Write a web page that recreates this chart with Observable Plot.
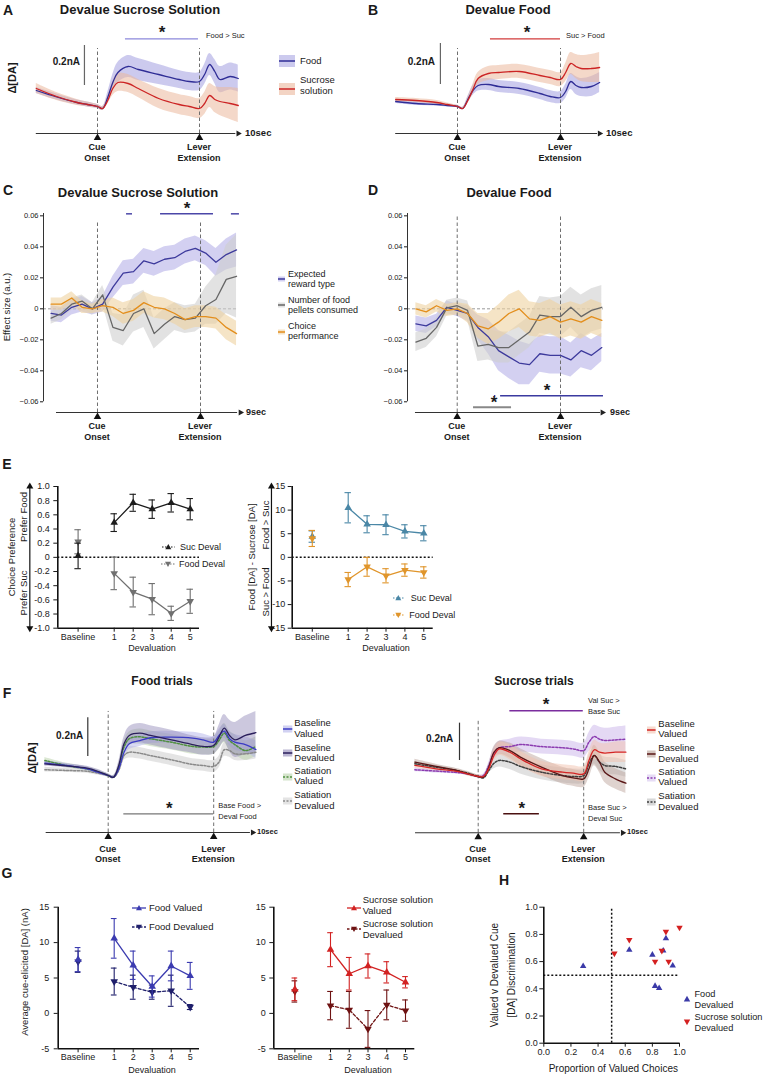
<!DOCTYPE html>
<html>
<head>
<meta charset="utf-8">
<script src="https://cdn.jsdelivr.net/npm/d3@7"></script>
<script src="https://cdn.jsdelivr.net/npm/@observablehq/plot@0.6"></script>
<style>
  html,body{margin:0;padding:0;background:#fff;}
  #fig{position:relative;width:764px;height:1075px;overflow:hidden;font-family:"Liberation Sans",Arial,Helvetica,sans-serif;color:#1a1a1a;}
  #fig > svg{position:absolute;left:0;top:0;pointer-events:none;}
  .lb{position:absolute;white-space:nowrap;}
  .sw{position:absolute;overflow:visible;}
</style>
</head>
<body>
<div id="fig"></div>
<script>
// ================= DATA =================
// A / B : time (s) relative to cue onset; lever extension at 5 s; values in nA
const tAB = [-3,-2,-1,-0.5,0,0.25,0.5,0.75,1,1.5,2,3,4,4.5,5,5.25,5.5,5.75,6,6.5,6.9];
const aFoodMean = [0.08,0.0475,0.02,0.01,0,-0.01,0.045,0.12,0.17,0.2,0.185,0.16,0.135,0.125,0.125,0.16,0.21,0.175,0.135,0.15,0.14];
const aFoodSem  = [0.015,0.015,0.012,0.012,0.01,0.01,0.025,0.04,0.05,0.055,0.055,0.05,0.045,0.045,0.045,0.05,0.055,0.06,0.065,0.068,0.068];
const aSucMean  = [0.09,0.05,0.02,0.01,0,-0.01,0.03,0.09,0.12,0.115,0.09,0.04,0.01,0,-0.01,0.015,0.055,0.035,0.025,0.015,0.005];
const aSucSem   = [0.025,0.02,0.015,0.012,0.01,0.01,0.02,0.035,0.045,0.045,0.045,0.05,0.05,0.05,0.05,0.055,0.06,0.065,0.07,0.08,0.085];
const bSucMean  = [0.035,0.03,0.02,0.01,0,-0.01,0.03,0.085,0.14,0.165,0.17,0.175,0.155,0.145,0.135,0.17,0.215,0.2,0.19,0.19,0.195];
const bSucSem   = [0.01,0.01,0.01,0.008,0.006,0.006,0.015,0.025,0.03,0.035,0.035,0.035,0.035,0.035,0.035,0.045,0.055,0.06,0.065,0.07,0.075];
const bFoodMean = [0.025,0.015,0.01,0.005,0,-0.01,0.035,0.08,0.105,0.11,0.1,0.09,0.065,0.05,0.045,0.075,0.125,0.105,0.095,0.1,0.12];
const bFoodSem  = [0.01,0.01,0.008,0.008,0.006,0.006,0.015,0.025,0.028,0.03,0.03,0.03,0.03,0.03,0.03,0.035,0.04,0.045,0.045,0.05,0.05];
const sigA = [[1.37,4.95]];
const sigB = [[1.6,5.0]];

// C / D : effect sizes (a.u.)
const tC = [-2.25,-1.75,-1.25,-0.75,-0.25,0.25,0.75,1.25,1.75,2.25,2.75,3.25,3.75,4.25,4.75,5.25,5.75,6.25,6.75];
const cRewardMean = [-0.003,-0.004,0.001,0.003,0.000,0.003,0.014,0.023,0.024,0.031,0.029,0.032,0.033,0.037,0.039,0.036,0.030,0.035,0.038];
const cRewardSem  = [0.005,0.005,0.005,0.005,0.004,0.005,0.007,0.008,0.008,0.008,0.008,0.008,0.008,0.008,0.008,0.008,0.009,0.01,0.011];
const cPelletMean = [-0.006,-0.003,0.003,0.005,0.000,0.009,-0.012,-0.014,-0.003,0.000,-0.016,-0.010,-0.005,-0.007,-0.006,0.002,0.006,0.019,0.021];
const cPelletSem  = [0.004,0.004,0.004,0.004,0.004,0.006,0.009,0.01,0.012,0.012,0.01,0.01,0.009,0.009,0.009,0.012,0.016,0.022,0.027];
const cChoiceMean = [0.003,0.003,0.007,0.001,0.000,0.002,0.001,-0.003,-0.001,0.004,0.001,0.000,-0.003,-0.007,-0.005,-0.005,-0.006,-0.012,-0.016];
const cChoiceSem  = [0.004,0.004,0.004,0.004,0.003,0.004,0.006,0.007,0.007,0.007,0.007,0.007,0.007,0.007,0.007,0.007,0.007,0.008,0.008];
const sigC = [[1.41,1.70],[3.06,5.63],[6.5,6.89]];

const tD = [-2,-1.5,-1,-0.5,0,0.5,1,1.5,2,2.5,3,3.5,4,4.5,5,5.5,6,6.5,7];
const dRewardMean = [-0.0097,-0.011,-0.0075,0.001,-0.001,-0.003,-0.012,-0.018,-0.027,-0.031,-0.035,-0.036,-0.029,-0.030,-0.030,-0.033,-0.027,-0.030,-0.025];
const dRewardSem  = [0.005,0.005,0.004,0.004,0.004,0.005,0.008,0.011,0.013,0.014,0.014,0.013,0.012,0.012,0.012,0.011,0.011,0.01,0.009];
const dPelletMean = [-0.0215,-0.019,-0.012,0.0006,0.002,-0.001,-0.024,-0.023,-0.025,-0.025,-0.020,-0.015,-0.004,-0.005,-0.005,0.001,-0.005,-0.001,0.001];
const dPelletSem  = [0.006,0.006,0.006,0.005,0.005,0.006,0.01,0.01,0.01,0.01,0.01,0.01,0.012,0.012,0.013,0.013,0.014,0.014,0.014];
const dChoiceMean = [0,-0.002,0.002,-0.001,0,-0.003,-0.011,-0.013,-0.0086,-0.003,0,-0.0065,-0.0075,-0.005,-0.0086,-0.0065,-0.0086,-0.005,-0.0075];
const dChoiceSem  = [0.004,0.004,0.004,0.004,0.004,0.006,0.008,0.01,0.011,0.012,0.012,0.011,0.011,0.011,0.011,0.011,0.011,0.011,0.011];
const sigDReward = [[1.8,1.87],[2.1,7.08]];
const sigDPellet = [[0.79,2.63]];
const effTicks = [-0.06,-0.04,-0.02,0,0.02,0.04,0.06];

// E / G : devaluation sessions
const devalLabels = ["Baseline","1","2","3","4","5"];
const devalPos = [-0.9,1,2,3,4,5];
const prefSucDeval = [0.02,0.49,0.77,0.68,0.77,0.68];
const prefSucDevalErr = [0.18,0.125,0.12,0.13,0.13,0.15];
const prefFoodDeval = [0.22,-0.226,-0.49,-0.59,-0.79,-0.62];
const prefFoodDevalErr = [0.17,0.23,0.21,0.22,0.1,0.17];
const daSucDeval = [4.4,10.5,7.0,6.9,5.5,5.1];
const daSucDevalErr = [1.2,3.2,1.8,2.1,1.4,1.6];
const daFoodDeval = [4.0,-4.7,-2.0,-3.9,-2.7,-3.2];
const daFoodDevalErr = [1.7,1.5,2.0,1.5,1.3,1.2];
const prefTicks = [-1,-0.8,-0.6,-0.4,-0.2,0,0.2,0.4,0.6,0.8,1];
const daDiffTicks = [-15,-10,-5,0,5,10,15];

// F : food / sucrose trials (nA)
const tF = [-3,-2,-1,-0.5,0,0.25,0.5,0.75,1,1.5,2,3,4,4.5,5,5.25,5.5,5.75,6,6.5,7];
const fFoodBaseVal    = [0.064,0.052,0.034,0.017,0,-0.009,0.034,0.12,0.164,0.18,0.195,0.198,0.193,0.184,0.172,0.207,0.229,0.19,0.172,0.16,0.134];
const fFoodBaseValSem = [0.012,0.01,0.01,0.01,0.008,0.008,0.015,0.025,0.03,0.03,0.03,0.03,0.03,0.03,0.03,0.03,0.035,0.035,0.04,0.04,0.045];
const fFoodBaseDev    = [0.06,0.05,0.038,0.022,0,-0.009,0.052,0.164,0.207,0.219,0.207,0.184,0.16,0.15,0.155,0.198,0.245,0.207,0.184,0.207,0.221];
const fFoodBaseDevSem = [0.012,0.01,0.01,0.01,0.008,0.008,0.02,0.035,0.045,0.05,0.05,0.05,0.045,0.045,0.045,0.06,0.07,0.08,0.09,0.1,0.11];
const fFoodSatVal     = [0.078,0.052,0.034,0.02,0,-0.009,0.043,0.147,0.19,0.2,0.19,0.172,0.15,0.147,0.15,0.181,0.219,0.181,0.16,0.129,0.15];
const fFoodSatValSem  = [0.015,0.012,0.01,0.01,0.008,0.008,0.018,0.03,0.035,0.04,0.04,0.04,0.04,0.04,0.04,0.045,0.05,0.05,0.05,0.05,0.05];
const fFoodSatDev     = [0.03,0.026,0.022,0.012,0,-0.009,0.026,0.103,0.12,0.115,0.103,0.081,0.057,0.052,0.047,0.069,0.133,0.129,0.112,0.112,0.12];
const fFoodSatDevSem  = [0.012,0.01,0.01,0.01,0.008,0.008,0.015,0.025,0.03,0.03,0.03,0.03,0.03,0.03,0.03,0.03,0.035,0.035,0.035,0.035,0.035];
const fSucBaseVal     = [0.059,0.041,0.027,0.014,0,0,0.041,0.1125,0.148,0.13,0.095,0.041,0.023,0.018,0.014,0.086,0.143,0.13,0.125,0.13,0.13];
const fSucBaseValSem  = [0.015,0.012,0.01,0.01,0.008,0.008,0.015,0.03,0.035,0.04,0.04,0.04,0.04,0.04,0.04,0.045,0.05,0.05,0.05,0.055,0.055];
const fSucBaseDev     = [0.077,0.054,0.032,0.014,0,-0.004,0.05,0.13,0.154,0.139,0.104,0.05,0.005,-0.007,-0.0125,0.041,0.1125,0.077,0.023,-0.0125,-0.036];
const fSucBaseDevSem  = [0.015,0.012,0.01,0.01,0.008,0.008,0.015,0.03,0.035,0.04,0.045,0.045,0.045,0.045,0.045,0.05,0.055,0.055,0.055,0.055,0.055];
const fSucSatVal      = [0.036,0.029,0.021,0.014,0,0.005,0.059,0.125,0.154,0.16,0.171,0.16,0.154,0.148,0.139,0.184,0.214,0.2,0.193,0.196,0.2];
const fSucSatValSem   = [0.01,0.01,0.008,0.008,0.008,0.008,0.015,0.03,0.035,0.04,0.04,0.04,0.04,0.04,0.04,0.05,0.06,0.065,0.065,0.068,0.07];
const fSucSatDev      = [0.068,0.05,0.032,0.018,0,-0.007,0.032,0.071,0.086,0.077,0.054,0.023,0.005,0,0.005,0.068,0.1125,0.077,0.059,0.054,0.041];
const fSucSatDevSem   = [0.012,0.01,0.01,0.01,0.008,0.008,0.015,0.03,0.035,0.04,0.04,0.04,0.04,0.04,0.04,0.045,0.045,0.045,0.045,0.045,0.045];
const sigFFood = [[0.74,5.0]];
const sigFSucUp = [[1.5,4.98]];
const sigFSucDown = [[1.21,2.9]];

// G : average cue-elicited [DA] (nA)
const gFoodVal = [7.6,10.6,6.8,3.8,6.7,5.3];
const gFoodValErr = [1.7,2.8,2.0,1.5,2.1,1.9];
const gFoodDev = [7.3,4.5,3.7,3.0,3.2,0.9];
const gFoodDevErr = [1.5,1.9,1.7,1.0,2.2,0.35];
const gSucVal = [3.4,9.0,5.6,6.7,5.8,4.4];
const gSucValErr = [1.6,2.4,2.3,1.7,1.5,0.8];
const gSucDev = [3.1,1.1,0.5,-2.2,1.2,0.4];
const gSucDevErr = [1.5,2.0,2.6,2.6,2.1,1.5];
const gTicks = [-5,0,5,10,15];

// H : scatter
const hFoodX = [0.29,0.63,0.80,0.82,0.85,0.88,0.90,0.95];
const hFoodY = [0.566,0.686,0.65,0.42,0.405,0.68,0.77,0.57];
const hSucX  = [0.52,0.63,0.82,0.87,0.90,0.92,1.0];
const hSucY  = [0.66,0.76,0.60,0.68,0.82,0.60,0.85];
const hTicks = [0,0.2,0.4,0.6,0.8,1.0];

// ================= RENDER =================
const W = 764, H = 1075;
const fig = document.getElementById("fig");
const FONT = "'Liberation Sans', Arial, sans-serif";

function panel(box, xd, yd, marks, xNull = true, yNull = true) {
  const svg = Plot.plot({
    width: W, height: H,
    marginLeft: box[0], marginRight: W - box[1], marginTop: box[2], marginBottom: H - box[3],
    x: Object.assign({domain: xd}, xNull ? {axis: null} : {}),
    y: Object.assign({domain: yd}, yNull ? {axis: null} : {}),
    style: {background: "none", overflow: "visible", fontFamily: FONT},
    marks
  });
  fig.appendChild(svg);
}

function series(t, list, curve) {
  const bands = [], lines = [];
  for (const s of list) {
    const r = t.map((x, i) => ({x, y: s.m[i], lo: s.m[i] - s.s[i], hi: s.m[i] + s.s[i]}));
    bands.push(Plot.areaY(r, {x: "x", y1: "lo", y2: "hi", fill: s.band, fillOpacity: s.op ?? 0.55, curve}));
    lines.push(Plot.lineY(r, {x: "x", y: "y", stroke: s.c, strokeWidth: s.w ?? 1.3, strokeDasharray: s.dash, curve}));
  }
  return {bands, lines};
}

function eventUnder(o) {
  return [Plot.ruleX([0, 5], {y1: o.bot, y2: o.top, stroke: "#6f6f6f", strokeWidth: 1, strokeDasharray: "3.5,2.5"})];
}
function eventOver(o) {
  return [
    Plot.ruleY([o.bot], {x1: o.ax1, x2: o.ax2, stroke: "#333", strokeWidth: 1.1}),
    Plot.dot([o.head], {x: d => d, y: o.bot, symbol: "triangle", rotate: 90, fill: "#222", r: 2.3}),
    Plot.dot([0, 5], {x: d => d, y: o.bot, dy: o.tri * 1.55, symbol: "triangle", fill: "#111", r: o.tri})
  ];
}
function sig(segs, y, stroke, w = 1.3) {
  return Plot.ruleY(segs, {y, x1: d => d[0], x2: d => d[1], stroke, strokeWidth: w});
}

function errMarks(pos, mean, err, color, down, dash, cap, r, lw = 1.3) {
  const rows = pos.map((p, i) => ({p, m: mean[i], lo: mean[i] - err[i], hi: mean[i] + err[i]}));
  return [
    Plot.line(rows.slice(1), {x: "p", y: "m", stroke: color, strokeWidth: lw, strokeDasharray: dash}),
    Plot.ruleX(rows, {x: "p", y1: "lo", y2: "hi", stroke: color, strokeWidth: 1.1}),
    Plot.ruleY(rows, {y: "hi", x1: d => d.p - cap, x2: d => d.p + cap, stroke: color, strokeWidth: 1.1}),
    Plot.ruleY(rows, {y: "lo", x1: d => d.p - cap, x2: d => d.p + cap, stroke: color, strokeWidth: 1.1}),
    Plot.dot(rows, {x: "p", y: "m", symbol: "triangle", rotate: down ? 180 : 0, fill: color, r})
  ];
}
const devalFmt = d => devalLabels[devalPos.indexOf(d)];

// ---------- Panel A ----------
{
  const o = {bot: -0.135, top: 0.29, ax1: -3, ax2: 6.78, head: 6.9, tri: 2.8};
  const s = series(tAB, [
    {m: aFoodMean, s: aFoodSem, c: "#2f2d96", band: "#aaa6e2", op: 0.6},
    {m: aSucMean, s: aSucSem, c: "#cc2424", band: "#ebb89c", op: 0.55}
  ], "catmull-rom");
  panel([35.8, 239.8, 28, 133], [-3, 7], [-0.135, 0.39], [
    ...s.bands, ...eventUnder(o), ...s.lines, ...eventOver(o),
    sig(sigA, 0.3385, "#8c89db"),
    Plot.ruleX([-0.64], {y1: 0.105, y2: 0.305, stroke: "#666", strokeWidth: 1.2})
  ]);
}
// ---------- Panel B ----------
{
  const o = {bot: -0.135, top: 0.29, ax1: -3, ax2: 6.8, head: 6.9, tri: 2.8};
  const s = series(tAB, [
    {m: bFoodMean, s: bFoodSem, c: "#2f2d96", band: "#aaa6e2", op: 0.6},
    {m: bSucMean, s: bSucSem, c: "#cc2424", band: "#ebb89c", op: 0.55}
  ], "catmull-rom");
  panel([395.2, 601.2, 28, 133], [-3, 7], [-0.135, 0.39], [
    ...s.bands, ...eventUnder(o), ...s.lines, ...eventOver(o),
    sig(sigB, 0.3385, "#d23b3b"),
    Plot.ruleX([-0.83], {y1: 0.11, y2: 0.315, stroke: "#666", strokeWidth: 1.2})
  ]);
}
// ---------- Panel C / D ----------
const effAxis = Plot.axisY({ticks: effTicks, tickFormat: d => d === 0 ? "0" : d3.format(".2f")(d), tickSize: 3, tickPadding: 2, fontSize: 7.5, label: null});
{
  const o = {bot: -0.0669, top: 0.0557, ax1: -1.99, ax2: 6.8, head: 6.94, tri: 2.8};
  const s = series(tC, [
    {m: cRewardMean, s: cRewardSem, c: "#3d3a9c", band: "#b5b1e8", op: 0.6},
    {m: cPelletMean, s: cPelletSem, c: "#666", band: "#cfcfcf", op: 0.6},
    {m: cChoiceMean, s: cChoiceSem, c: "#e38e1c", band: "#efd2a0", op: 0.6}
  ], "linear");
  panel([43, 243, 200, 412], [-2.621, 7.087], [-0.0669, 0.0699], [
    Plot.ruleY([0], {x1: -2.621, x2: 6.84, stroke: "#9a9a9a", strokeDasharray: "3,2"}),
    ...s.bands, ...eventUnder(o), ...s.lines, ...eventOver(o),
    Plot.ruleX([-2.621], {y1: -0.06, y2: 0.0615, stroke: "#333", strokeWidth: 1}),
    effAxis,
    sig(sigC, 0.0613, "#4b47a8", 1.5)
  ], true, false);
}
{
  const o = {bot: -0.0669, top: 0.0603, ax1: -2.02, ax2: 6.94, head: 7.03, tri: 2.8};
  const s = series(tD, [
    {m: dRewardMean, s: dRewardSem, c: "#3d3a9c", band: "#b5b1e8", op: 0.6},
    {m: dPelletMean, s: dPelletSem, c: "#666", band: "#cfcfcf", op: 0.6},
    {m: dChoiceMean, s: dChoiceSem, c: "#e38e1c", band: "#efd2a0", op: 0.6}
  ], "linear");
  panel([407, 610, 200, 412], [-2.406, 7.42], [-0.0669, 0.0699], [
    Plot.ruleY([0], {x1: -2.406, x2: 7.08, stroke: "#9a9a9a", strokeDasharray: "3,2"}),
    ...s.bands, ...eventUnder(o), ...s.lines, ...eventOver(o),
    Plot.ruleX([-2.406], {y1: -0.06, y2: 0.0615, stroke: "#333", strokeWidth: 1}),
    effAxis,
    sig(sigDReward, -0.0561, "#3b3aa0", 1.5),
    sig(sigDPellet, -0.0635, "#888", 1.8)
  ], true, false);
}
// ---------- Panel E ----------
{
  const xd = [-1.968, 5.489];
  panel([57.3, 199, 486, 627.7], xd, [-1, 1], [
    Plot.ruleY([0], {x1: xd[0], x2: xd[1], stroke: "#111", strokeWidth: 1.5, strokeDasharray: "2,2"}),
    Plot.ruleX([xd[0]], {y1: -1, y2: 1, stroke: "#111", strokeWidth: 1.6}),
    Plot.ruleY([-1], {x1: xd[0], x2: xd[1], stroke: "#111", strokeWidth: 1.6}),
    Plot.axisY({ticks: prefTicks, tickFormat: d => d === 0 ? "0" : d.toFixed(1), tickSize: 4, tickPadding: 4, fontSize: 9, label: null}),
    Plot.axisX({ticks: devalPos, tickFormat: devalFmt, tickSize: 4, tickPadding: 1, fontSize: 9, label: null}),
    Plot.ruleX([-3.44], {y1: -1, y2: 1, stroke: "#111", strokeWidth: 1.2}),
    Plot.dot([[-3.44, 1, 0], [-3.44, -1, 180]], {x: d => d[0], y: d => d[1], rotate: d => d[2], symbol: "triangle", fill: "#111", r: 2.6}),
    ...errMarks(devalPos, prefFoodDeval, prefFoodDevalErr, "#707070", true, null, 0.17, 2.8),
    ...errMarks(devalPos, prefSucDeval, prefSucDevalErr, "#1c1c1c", false, null, 0.17, 2.8)
  ], false, false);
}
{
  const xd = [-1.963, 5.497];
  panel([291.7, 432.7, 486, 627.7], xd, [-15, 15], [
    Plot.ruleY([0], {x1: xd[0], x2: xd[1], stroke: "#111", strokeWidth: 1.5, strokeDasharray: "2,2"}),
    Plot.ruleX([xd[0]], {y1: -15, y2: 15, stroke: "#111", strokeWidth: 1.6}),
    Plot.ruleY([-15], {x1: xd[0], x2: xd[1], stroke: "#111", strokeWidth: 1.6}),
    Plot.axisY({ticks: daDiffTicks, tickFormat: d => String(d), tickSize: 4, tickPadding: 3, fontSize: 9, label: null}),
    Plot.axisX({ticks: devalPos, tickFormat: devalFmt, tickSize: 4, tickPadding: 1, fontSize: 9, label: null}),
    Plot.ruleX([-3.06], {y1: -15, y2: 15, stroke: "#111", strokeWidth: 1.2}),
    Plot.dot([[-3.06, 15, 0], [-3.06, -15, 180]], {x: d => d[0], y: d => d[1], rotate: d => d[2], symbol: "triangle", fill: "#111", r: 2.6}),
    ...errMarks(devalPos, daSucDeval, daSucDevalErr, "#4a87a6", false, null, 0.17, 2.8),
    ...errMarks(devalPos, daFoodDeval, daFoodDevalErr, "#e0952b", true, null, 0.17, 2.8)
  ], false, false);
}
// ---------- Panel F ----------
{
  const o = {bot: -0.2946, top: 0.331, ax1: -2.94, ax2: 6.74, head: 6.85, tri: 2.8};
  const s = series(tF, [
    {m: fFoodSatDev, s: fFoodSatDevSem, c: "#8a8a8a", band: "#d2d2d2", op: 0.6, dash: "2,1.6", w: 1.5},
    {m: fFoodSatVal, s: fFoodSatValSem, c: "#4f8f3f", band: "#b9d2aa", op: 0.5, dash: "2,1.6", w: 1.5},
    {m: fFoodBaseVal, s: fFoodBaseValSem, c: "#3b3bc4", band: "#b3b3ea", op: 0.5},
    {m: fFoodBaseDev, s: fFoodBaseDevSem, c: "#2b1f5c", band: "#8d86b5", op: 0.45}
  ], "catmull-rom");
  panel([44.4, 255.4, 700, 832], [-3, 7], [-0.2946, 0.3876], [
    ...s.bands, ...eventUnder(o), ...s.lines, ...eventOver(o),
    sig(sigFFood, -0.198, "#777", 1.3),
    Plot.ruleX([-0.967], {y1: 0.098, y2: 0.298, stroke: "#333", strokeWidth: 1.2})
  ]);
}
{
  const o = {bot: -0.3016, top: 0.305, ax1: -2.97, ax2: 6.74, head: 6.85, tri: 2.8};
  const s = series(tF, [
    {m: fSucSatVal, s: fSucSatValSem, c: "#8b3bb0", band: "#d6c4ee", op: 0.65, dash: "2,1.6", w: 1.5},
    {m: fSucSatDev, s: fSucSatDevSem, c: "#3e3e3e", band: "#bdbdbd", op: 0.45, dash: "2,1.6", w: 1.5},
    {m: fSucBaseDev, s: fSucBaseDevSem, c: "#5a1616", band: "#b89e95", op: 0.45},
    {m: fSucBaseVal, s: fSucBaseValSem, c: "#d42525", band: "#f2c1ad", op: 0.5}
  ], "catmull-rom");
  panel([414.4, 625.4, 700, 832.3], [-3, 7], [-0.3016, 0.407], [
    ...s.bands, ...eventUnder(o), ...s.lines, ...eventOver(o),
    sig(sigFSucUp, 0.352, "#7b2d9e", 1.5),
    sig(sigFSucDown, -0.2, "#4a1010", 1.5),
    Plot.ruleX([-0.886], {y1: 0.0857, y2: 0.2857, stroke: "#333", strokeWidth: 1.2})
  ]);
}
// ---------- Panel G ----------
{
  const xd = [-1.947, 5.489];
  panel([57.7, 199, 906.7, 1048.3], xd, [-5, 15], [
    Plot.ruleX([xd[0]], {y1: -5, y2: 15, stroke: "#111", strokeWidth: 1.6}),
    Plot.ruleY([-5], {x1: xd[0], x2: xd[1], stroke: "#111", strokeWidth: 1.6}),
    Plot.axisY({ticks: gTicks, tickFormat: d => String(d), tickSize: 4, tickPadding: 5, fontSize: 9, label: null}),
    Plot.axisX({ticks: devalPos, tickFormat: devalFmt, tickSize: 4, tickPadding: 1, fontSize: 9, label: null}),
    ...errMarks(devalPos, gFoodDev, gFoodDevErr, "#1f1f6b", true, "3,2", 0.15, 2.8),
    ...errMarks(devalPos, gFoodVal, gFoodValErr, "#3b3bb0", false, null, 0.15, 2.8)
  ], false, false);
}
{
  const xd = [-2.024, 5.496];
  panel([273.3, 414.3, 906.7, 1048.3], xd, [-5, 15], [
    Plot.ruleX([xd[0]], {y1: -5, y2: 15, stroke: "#111", strokeWidth: 1.6}),
    Plot.ruleY([-5], {x1: xd[0], x2: xd[1], stroke: "#111", strokeWidth: 1.6}),
    Plot.axisY({ticks: gTicks, tickFormat: d => String(d), tickSize: 4, tickPadding: 4, fontSize: 9, label: null}),
    Plot.axisX({ticks: devalPos, tickFormat: devalFmt, tickSize: 4, tickPadding: 1, fontSize: 9, label: null}),
    ...errMarks(devalPos, gSucDev, gSucDevErr, "#6e1212", true, "3,2", 0.15, 2.8),
    ...errMarks(devalPos, gSucVal, gSucValErr, "#d22222", false, null, 0.15, 2.8)
  ], false, false);
}
// ---------- Panel H ----------
{
  const food = hFoodX.map((x, i) => ({x, y: hFoodY[i]}));
  const suc = hSucX.map((x, i) => ({x, y: hSucY[i]}));
  panel([543.3, 679, 906.7, 1042.7], [0, 1], [0, 1], [
    Plot.ruleX([0.5], {y1: 0, y2: 1, stroke: "#111", strokeWidth: 1.5, strokeDasharray: "2,2"}),
    Plot.ruleY([0.5], {x1: 0, x2: 0.99, stroke: "#111", strokeWidth: 1.5, strokeDasharray: "2,2"}),
    Plot.ruleX([0], {y1: 0, y2: 1, stroke: "#111", strokeWidth: 1.6}),
    Plot.ruleY([0], {x1: 0, x2: 1, stroke: "#111", strokeWidth: 1.6}),
    Plot.axisY({ticks: hTicks, tickFormat: d3.format(".1f"), tickSize: 4, tickPadding: 2, fontSize: 9, label: null}),
    Plot.axisX({ticks: hTicks, tickFormat: d3.format(".1f"), tickSize: 4, tickPadding: 1, fontSize: 9, label: null}),
    Plot.dot(food, {x: "x", y: "y", symbol: "triangle", fill: "#3b3aa8", r: 2.4}),
    Plot.dot(suc, {x: "x", y: "y", symbol: "triangle", rotate: 180, fill: "#d42020", r: 2.4})
  ], false, false);
}

// ================= TEXT & LEGENDS =================
function lab(x, y, html, o = {}) {
  const d = document.createElement("div");
  d.className = "lb";
  d.innerHTML = html;
  const a = o.a || "middle";
  const tx = a === "start" ? "0%" : a === "end" ? "-100%" : "-50%";
  Object.assign(d.style, {
    left: x + "px", top: y + "px", fontSize: (o.s || 9) + "px",
    fontWeight: o.b ? "bold" : "normal", color: o.c || "#1a1a1a",
    lineHeight: (o.lh || 1.15), textAlign: o.ta || (a === "middle" ? "center" : "left"),
    transform: `translate(${tx},-50%)` + (o.r ? ` rotate(${o.r}deg)` : "")
  });
  fig.appendChild(d);
}
function triPath(cx, cy, down, c, s) {
  const k = down ? -1 : 1;
  return `<path d="M${cx},${cy - k * s} L${cx + s},${cy + k * s * 0.75} L${cx - s},${cy + k * s * 0.75}Z" fill="${c}"/>`;
}
function swatch(x1, x2, y, o) {
  const w = x2 - x1, h = 14;
  let inner = "";
  if (o.band) inner += `<rect x="0" y="${(h - o.bh) / 2}" width="${w}" height="${o.bh}" fill="${o.band}" fill-opacity="${o.bop || 0.6}"/>`;
  if (o.line) inner += `<line x1="0" x2="${w}" y1="${h / 2}" y2="${h / 2}" stroke="${o.line}" stroke-width="${o.lw || 1.5}" ${o.dash ? `stroke-dasharray="${o.dash}"` : ""}/>`;
  if (o.sym) inner += triPath(w / 2, h / 2, o.sym === "down", o.symColor || o.line, o.sr || 3.2);
  const d = document.createElement("div");
  d.innerHTML = `<svg class="sw" width="${w}" height="${h}" style="left:${x1}px;top:${y - h / 2}px">${inner}</svg>`;
  fig.appendChild(d.firstChild);
}

// panel letters
[["A", 8, 10], ["B", 373, 10], ["C", 8, 190], ["D", 373, 190], ["E", 7, 464], ["F", 7, 693], ["G", 7, 873], ["H", 504, 880]]
  .forEach(([t, x, y]) => lab(x, y, t, {s: 14, b: true}));

// titles
lab(140, 10, "Devalue Sucrose Solution", {s: 13, b: true});
lab(508, 10, "Devalue Food", {s: 13, b: true});
lab(138, 193, "Devalue Sucrose Solution", {s: 13, b: true});
lab(509, 193, "Devalue Food", {s: 13, b: true});
lab(162, 682, "Food trials", {s: 12, b: true});
lab(534, 682, "Sucrose trials", {s: 12, b: true});

// A
lab(162, 33, "*", {s: 17, b: true});
lab(206, 36, "Food &gt; Suc", {s: 7.5, a: "start"});
lab(80, 62, "0.2nA", {s: 10, b: true, a: "end"});
lab(12, 78, "Δ[DA]", {s: 11, b: true, r: -90});
lab(245, 133, "10sec", {s: 9.5, b: true, a: "start"});
lab(97, 153, "Cue<br>Onset", {s: 9, b: true, lh: 1.2});
lab(199, 153, "Lever<br>Extension", {s: 9, b: true, lh: 1.2});
swatch(279, 295, 61, {band: "#aaa6e2", bh: 12, line: "#2f2d96"});
lab(300, 61, "Food", {s: 9.5, a: "start"});
swatch(279, 295, 89, {band: "#ebb89c", bh: 12, line: "#cc2424"});
lab(300, 84.5, "Sucrose<br>solution", {s: 9.5, a: "start", lh: 1.2});

// B
lab(527, 33, "*", {s: 17, b: true});
lab(566, 36, "Suc &gt; Food", {s: 7.5, a: "start"});
lab(435, 62, "0.2nA", {s: 10, b: true, a: "end"});
lab(606, 133, "10sec", {s: 9.5, b: true, a: "start"});
lab(457, 153, "Cue<br>Onset", {s: 9, b: true, lh: 1.2});
lab(560, 153, "Lever<br>Extension", {s: 9, b: true, lh: 1.2});

// C
lab(187, 209, "*", {s: 17, b: true});
lab(7, 307, "Effect size (a.u.)", {s: 9.5, r: -90});
lab(246, 412, "9sec", {s: 9, b: true, a: "start"});
lab(97, 432, "Cue<br>Onset", {s: 9, b: true, lh: 1.2});
lab(200, 432, "Lever<br>Extension", {s: 9, b: true, lh: 1.2});
swatch(278, 285, 279, {band: "#b5b1e8", bh: 5, line: "#3d3a9c"});
lab(288, 279.5, "Expected<br>reward type", {s: 9, a: "start", lh: 1.2});
swatch(278, 285, 305, {band: "#cfcfcf", bh: 5, line: "#666"});
lab(288, 305.5, "Number of food<br>pellets consumed", {s: 9, a: "start", lh: 1.2});
swatch(278, 285, 332, {band: "#efd2a0", bh: 5, line: "#e38e1c"});
lab(288, 331.5, "Choice<br>performance", {s: 9, a: "start", lh: 1.2});

// D
lab(547, 391, "*", {s: 17, b: true});
lab(494, 403, "*", {s: 17, b: true});
lab(610, 412, "9sec", {s: 9, b: true, a: "start"});
lab(456.7, 432, "Cue<br>Onset", {s: 9, b: true, lh: 1.2});
lab(560, 432, "Lever<br>Extension", {s: 9, b: true, lh: 1.2});

// E
lab(12, 557, "Choice Preference", {s: 9.5, r: -90});
lab(24, 517, "Prefer Food", {s: 9.5, r: -90});
lab(24, 593, "Prefer Suc", {s: 9.5, r: -90});
lab(152, 648, "Devaluation", {s: 9});
swatch(161.7, 174.3, 547, {line: "#1c1c1c", dash: "1.5,1.5", lw: 1.2, sym: "up", sr: 3});
lab(180, 547, "Suc Deval", {s: 9, a: "start"});
swatch(161, 175, 564, {line: "#707070", dash: "1.5,1.5", lw: 1.2, sym: "down", sr: 3});
lab(179, 564, "Food Deval", {s: 9, a: "start"});
lab(252, 557, "Food [DA] - Sucrose [DA]", {s: 9.5, r: -90});
lab(265.7, 525, "Food &gt; Suc", {s: 9.5, r: -90});
lab(265.7, 592, "Suc &gt; Food", {s: 9.5, r: -90});
lab(386, 648, "Devaluation", {s: 9});
swatch(392.7, 403.3, 597.7, {line: "#4a87a6", dash: "1.5,1.5", lw: 1.2, sym: "up", sr: 3});
lab(410.7, 597.7, "Suc Deval", {s: 9, a: "start"});
swatch(392.7, 403.3, 615, {line: "#e0952b", dash: "1.5,1.5", lw: 1.2, sym: "down", sr: 3});
lab(409.3, 615, "Food Deval", {s: 9, a: "start"});

// F left
lab(83.3, 736, "0.2nA", {s: 10, b: true, a: "end"});
lab(32, 758, "Δ[DA]", {s: 11, b: true, r: -90});
lab(169.3, 809, "*", {s: 17, b: true});
lab(218.3, 811.3, "Base Food &gt;<br>Deval Food", {s: 7.5, a: "start", lh: 1.4});
lab(257, 832, "10sec", {s: 7.5, b: true, a: "start"});
lab(107.7, 854.5, "Cue<br>Onset", {s: 9, b: true, lh: 1.2});
lab(213.3, 854.5, "Lever<br>Extension", {s: 9, b: true, lh: 1.2});
swatch(282.7, 292, 728.5, {band: "#b3b3ea", bh: 7, line: "#3b3bc4"});
lab(294.3, 729, "Baseline<br>Valued", {s: 9.5, a: "start", lh: 1.15});
swatch(282.7, 292, 753, {band: "#8d86b5", bh: 7, line: "#2b1f5c"});
lab(294.3, 753.5, "Baseline<br>Devalued", {s: 9.5, a: "start", lh: 1.15});
swatch(282.7, 292, 776.5, {band: "#b9d2aa", bh: 7, line: "#4f8f3f", dash: "2,1.5"});
lab(294.3, 776.5, "Satiation<br>Valued", {s: 9.5, a: "start", lh: 1.15});
swatch(282.7, 292, 801, {band: "#d2d2d2", bh: 7, line: "#8a8a8a", dash: "2,1.5"});
lab(294.3, 801, "Satiation<br>Devalued", {s: 9.5, a: "start", lh: 1.15});

// F right
lab(453.3, 739.3, "0.2nA", {s: 10, b: true, a: "end"});
lab(546, 705, "*", {s: 17, b: true});
lab(588, 706, "Val Suc &gt;<br>Base Suc", {s: 7.5, a: "start", lh: 1.4});
lab(521.7, 809, "*", {s: 17, b: true});
lab(588, 813, "Base Suc &gt;<br>Deval Suc", {s: 7.5, a: "start", lh: 1.4});
lab(627, 832, "10sec", {s: 7.5, b: true, a: "start"});
lab(477.7, 854.5, "Cue<br>Onset", {s: 9, b: true, lh: 1.2});
lab(583.3, 854.5, "Lever<br>Extension", {s: 9, b: true, lh: 1.2});
swatch(646.7, 655.3, 729.5, {band: "#f2c1ad", bh: 7, line: "#d42525"});
lab(658.3, 729.5, "Baseline<br>Valued", {s: 9.5, a: "start", lh: 1.15});
swatch(646.7, 655.3, 753.8, {band: "#b89e95", bh: 7, line: "#5a1616"});
lab(658.3, 753.8, "Baseline<br>Devalued", {s: 9.5, a: "start", lh: 1.15});
swatch(646.7, 655.3, 777.5, {band: "#d6c4ee", bh: 7, line: "#8b3bb0", dash: "2,1.5"});
lab(658.3, 777.5, "Satiation<br>Valued", {s: 9.5, a: "start", lh: 1.15});
swatch(646.7, 655.3, 801.8, {band: "#bdbdbd", bh: 7, line: "#3e3e3e", dash: "2,1.5"});
lab(658.3, 801.8, "Satiation<br>Devalued", {s: 9.5, a: "start", lh: 1.15});

// G
lab(25, 972, "Average cue-elicited [DA] (nA)", {s: 9.5, r: -90});
lab(152, 1070, "Devaluation", {s: 9});
swatch(131.7, 145.7, 907.7, {line: "#3b3bb0", lw: 1.3, sym: "up", sr: 3});
lab(149, 907.7, "Food Valued", {s: 9.5, a: "start"});
swatch(131.7, 145.7, 926.7, {line: "#1f1f6b", lw: 1.3, dash: "2.5,1.5", sym: "down", sr: 3});
lab(149, 926.7, "Food Devalued", {s: 9.5, a: "start"});
lab(368, 1070, "Devaluation", {s: 9});
swatch(346.7, 360.7, 908.3, {line: "#d22222", lw: 1.3, sym: "up", sr: 3});
lab(362.7, 906.3, "Sucrose solution<br>Valued", {s: 9.5, a: "start", lh: 1.15});
swatch(346.7, 360.7, 929, {line: "#6e1212", lw: 1.3, dash: "2.5,1.5", sym: "down", sr: 3});
lab(362.7, 930.2, "Sucrose solution<br>Devalued", {s: 9.5, a: "start", lh: 1.15});

// H
lab(495, 975, "Valued v Devalued Cue", {s: 10, r: -90});
lab(511.7, 975, "[DA] Discrimination", {s: 10, r: -90});
lab(613.3, 1069.3, "Proportion of Valued Choices", {s: 10});
swatch(683.3, 691.3, 999.3, {sym: "up", symColor: "#3b3aa8", sr: 3.2});
lab(694.5, 1000.3, "Food<br>Devalued", {s: 9.2, a: "start", lh: 1.2});
swatch(683.3, 691.3, 1022.3, {sym: "down", symColor: "#d42020", sr: 3.2});
lab(694.5, 1022.5, "Sucrose solution<br>Devalued", {s: 9.2, a: "start", lh: 1.2});
</script>
</body>
</html>
